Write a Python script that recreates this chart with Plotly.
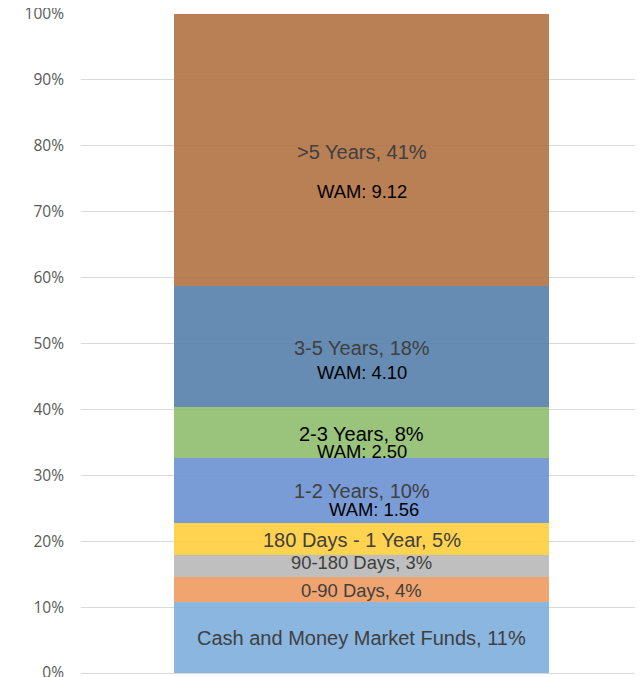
import plotly.graph_objects as go

# ---- data ----
segments = ["Cash and Money Market Funds", "0-90 Days", "90-180 Days", "180 Days - 1 Year",
            "1-2 Years", "2-3 Years", "3-5 Years", ">5 Years"]
shares = [10.77, 3.84, 3.23, 4.91, 9.90, 7.78, 18.35, 41.22]
label_pct = [11, 4, 3, 5, 10, 8, 18, 41]
wam = [None, None, None, None, 1.56, 2.50, 4.10, 9.12]
category = ["Portfolio"]

# ---- styles ----
colors = ["#7DAEDD", "#EE9A60", "#B8B8B8", "#FFCE3D", "#6B91D1", "#8FBD6D", "#5580AB", "#B17142"]
label_sizes = [20, 18.4, 18.4, 20, 20, 20, 20, 20]
label_colors = ["#404040", "#404040", "#404040", "#404040", "#404040", "#000000", "#404040", "#404040"]
label_dy = [0.6, 1.3, -3.6, 0.5, 1.0, 2.0, 1.5, 2.0]      # px, downward
wam_dy = [0, 0, 0, 0, 19.3, 19.0, 26.5, 42.0]           # px, downward
wam_dx = [0, 0, 0, 0, 12, 0, 0, 0]

fig = go.Figure()
base = 0.0
annotations = []
for i, (name, v) in enumerate(zip(segments, shares)):
    fig.add_trace(go.Bar(
        x=category, y=[v], name=name,
        marker=dict(color=colors[i], line=dict(width=0)),
        opacity=0.9, hoverinfo="skip",
    ))
    mid = base + v / 2
    annotations.append(dict(
        x=category[0], y=mid, xref="x", yref="y",
        text=f"{name}, {label_pct[i]}%", showarrow=False,
        yshift=-label_dy[i],
        font=dict(family="Liberation Sans, Arial, sans-serif", size=label_sizes[i], color=label_colors[i]),
    ))
    if wam[i] is not None:
        annotations.append(dict(
            x=category[0], y=mid, xref="x", yref="y",
            text=f"WAM: {wam[i]:.2f}", showarrow=False,
            yshift=-wam_dy[i], xshift=wam_dx[i],
            font=dict(family="Liberation Sans, Arial, sans-serif", size=18.4, color="#000000"),
        ))
    base += v

# page body has an 8px default margin, so the figure is sized to fit inside it
fig.update_layout(
    width=635, height=669,
    margin=dict(l=73, r=1, t=6, b=4, autoexpand=False),
    barmode="stack", bargap=0.333,
    showlegend=False,
    plot_bgcolor="white", paper_bgcolor="white",
    annotations=annotations,
    xaxis=dict(showticklabels=False, showgrid=False, zeroline=False, showline=False, ticks="",
               automargin=False),
    yaxis=dict(
        range=[0, 100], dtick=10, ticksuffix="%",
        showgrid=True, gridcolor="#D9D9D9", gridwidth=1,
        zeroline=True, zerolinecolor="#D9D9D9", zerolinewidth=1,
        showline=False, ticks="", ticklabelstandoff=16,
        ticklabeloverflow="allow", automargin=False,
        tickfont=dict(family="Open Sans, sans-serif", size=15.5, color="#595959"),
    ),
)

fig.write_html("out.html")
